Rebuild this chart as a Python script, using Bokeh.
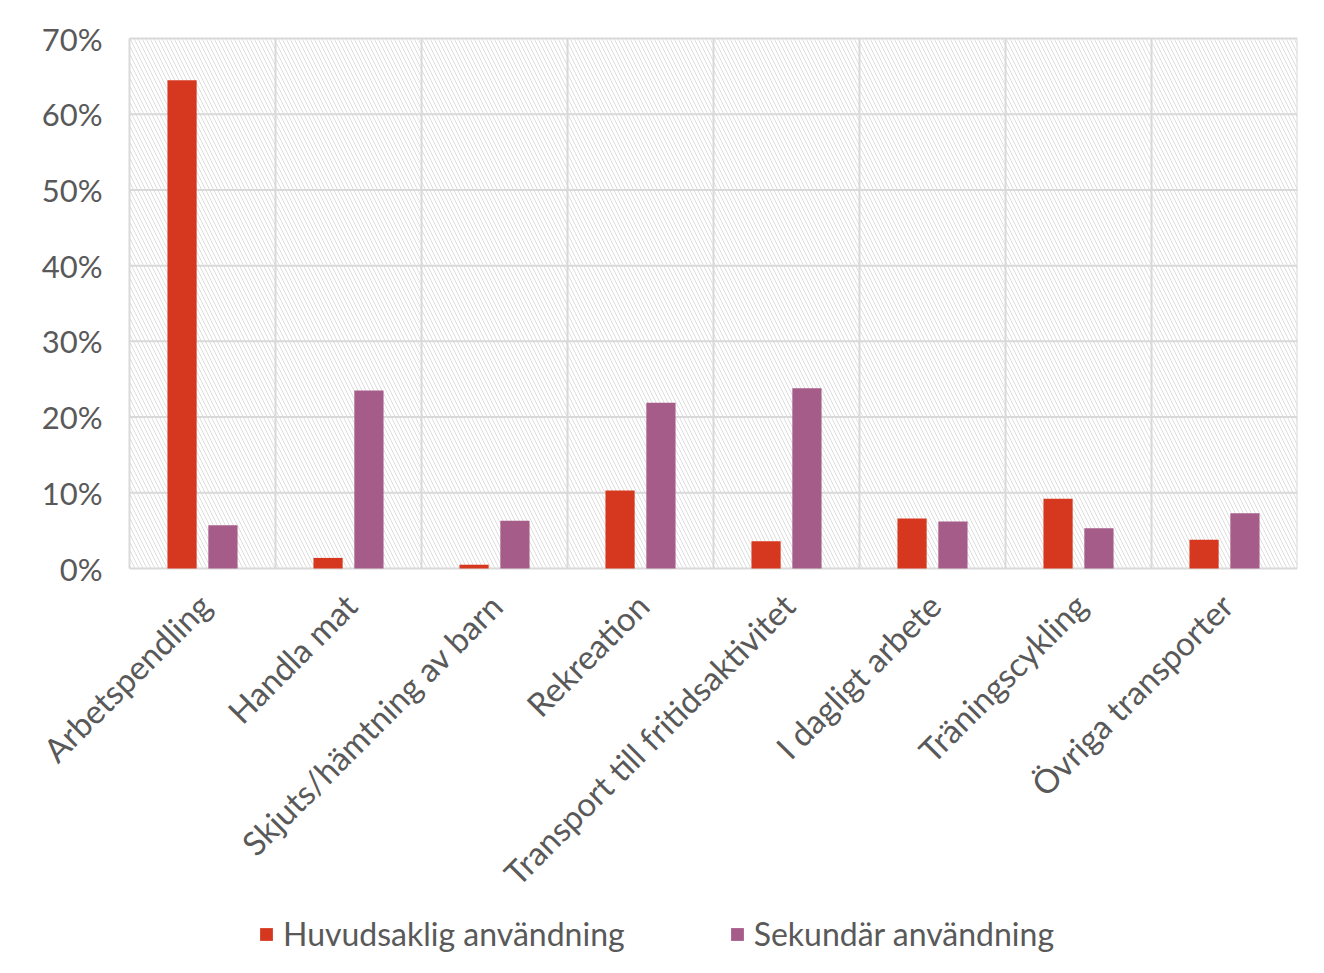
from bokeh.plotting import figure
from bokeh.models import BoxAnnotation, Legend, LegendItem, Range1d
from bokeh.core.properties import value
from bokeh.transform import dodge
from bokeh.embed import file_html
from bokeh.resources import INLINE
import math

categories = ["Arbetspendling", "Handla mat", "Skjuts/hämtning av barn", "Rekreation",
              "Transport till fritidsaktivitet", "I dagligt arbete", "Träningscykling",
              "Övriga transporter"]
huvudsaklig = [0.645, 0.014, 0.005, 0.103, 0.036, 0.066, 0.092, 0.038]
sekundar = [0.057, 0.235, 0.063, 0.219, 0.238, 0.062, 0.053, 0.073]
y_ticks = [0, 0.1, 0.2, 0.3, 0.4, 0.5, 0.6, 0.7]
y_tick_labels = ["0%", "10%", "20%", "30%", "40%", "50%", "60%", "70%"]
series_names = ["Huvudsaklig användning", "Sekundär användning"]

RED = "#d6381f"
PURPLE = "#a55c88"
GRID = "#d9d9d9"
TEXT = "#595959"
FONT = "Lato"
FS = "31px"

n = len(categories)
ymax = y_ticks[-1]
centers = [i + 0.5 for i in range(n)]
bounds = list(range(n + 1))

# layout in pixels: data area 1168x530, 129px left of it, 38px above, 397px below
data_w, left_w = 1168, 129
data_h, extra_h, top_h = 530, 397, 38
ymin = -ymax * extra_h / data_h
ytop = ymax + ymax * top_h / data_h
xmin = -n * left_w / data_w

p = figure(width=1316, height=965, output_backend="svg", toolbar_location=None,
           x_range=Range1d(xmin, n), y_range=Range1d(ymin, ytop),
           frame_width=data_w + left_w, frame_height=data_h + extra_h + top_h,
           min_border_left=0, min_border_top=0, min_border_right=19,
           min_border_bottom=0, x_axis_location=None, y_axis_location=None)
p.outline_line_color = None
p.grid.visible = False

bg = BoxAnnotation(left=0, right=n, bottom=0, top=ymax, fill_alpha=0, line_alpha=0,
                   hatch_pattern="\\", hatch_color="#dedede",
                   hatch_scale=8, hatch_weight=1, level="image")
p.add_layout(bg)

# grid lines (incl. plot-area border)
p.segment(x0=bounds, x1=bounds, y0=[0] * len(bounds), y1=[ymax] * len(bounds),
          line_color=GRID, line_width=2)
p.segment(x0=[0] * len(y_ticks), x1=[n] * len(y_ticks), y0=y_ticks, y1=y_ticks,
          line_color=GRID, line_width=2)

src = dict(x=centers, h=huvudsaklig, s=sekundar, lab=categories, zero=[0] * n)
r1 = p.vbar(x=dodge("x", -0.14, range=p.x_range), top="h", width=0.2, source=src,
            fill_color=RED, line_color=None)
r2 = p.vbar(x=dodge("x", 0.14, range=p.x_range), top="s", width=0.2, source=src,
            fill_color=PURPLE, line_color=None)

# rotated category labels
p.text(x="x", y="zero", text="lab", source=src, angle=math.pi / 4,
       text_align="right", text_baseline="middle", x_offset=2, y_offset=31,
       text_font=value(FONT), text_font_size="33px", text_color=TEXT)

# y tick labels
p.text(x=[0] * len(y_ticks), y=y_ticks, text=y_tick_labels,
       text_align="right", text_baseline="middle", x_offset=-27, y_offset=0,
       text_font=value(FONT), text_font_size=FS, text_color=TEXT)

legend = Legend(items=[LegendItem(label=series_names[0], renderers=[r1]),
                       LegendItem(label=series_names[1], renderers=[r2])],
                orientation="horizontal", location=(258, 12),
                label_text_font=FONT, label_text_font_size="32px", label_text_color=TEXT,
                glyph_width=16, glyph_height=16, label_standoff=9, spacing=104,
                padding=0, margin=0, border_line_color=None, background_fill_alpha=0)
p.add_layout(legend, "center")

open("out.html", "w").write(file_html(p, INLINE))
